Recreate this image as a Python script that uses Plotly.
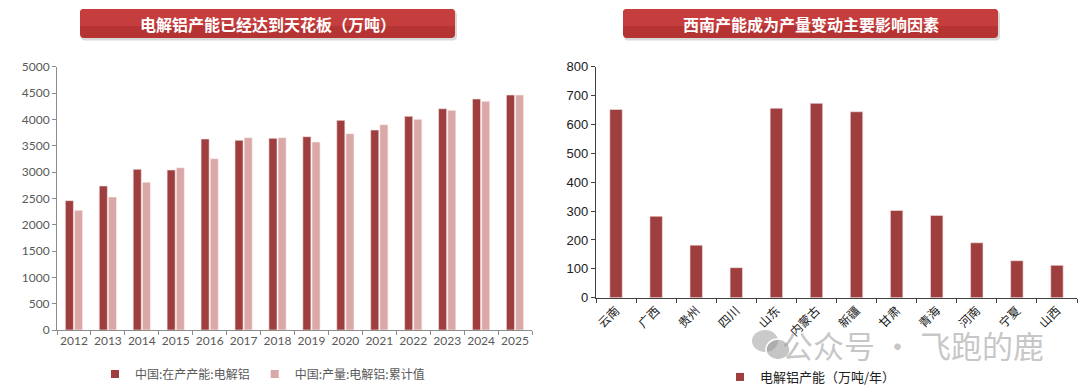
import plotly.graph_objects as go

W, H = 1080, 388

years = [str(y) for y in range(2012, 2026)]
capacity = [2456, 2734, 3051, 3038, 3627, 3601, 3639, 3671, 3981, 3797, 4057, 4202, 4386, 4462]
output = [2272, 2525, 2804, 3082, 3253, 3652, 3652, 3570, 3728, 3899, 4000, 4171, 4342, 4462]

provinces = ["云南", "广西", "贵州", "四川", "山东", "内蒙古", "新疆", "甘肃", "青海", "河南", "宁夏", "山西"]
prov_cap = [652, 282, 182, 104, 656, 673, 644, 302, 285, 190, 128, 112]

left_title = "电解铝产能已经达到天花板（万吨）"
right_title = "西南产能成为产量变动主要影响因素"
name_cap = "中国:在产产能:电解铝"
name_out = "中国:产量:电解铝:累计值"
name_prov = "电解铝产能（万吨/年）"

DARK = "#9E3E3E"
LIGHT = "#DBA8A8"

def px_x(v):
    return v / W

def px_y(v):
    return 1 - v / H

fig = go.Figure()
fig.add_trace(go.Bar(x=years, y=capacity, name=name_cap, marker=dict(color=DARK, line=dict(width=0.6, color="#F4E4E4")),
                     xaxis="x", yaxis="y", showlegend=False))
fig.add_trace(go.Bar(x=years, y=output, name=name_out, marker=dict(color=LIGHT, line=dict(width=0.6, color="#FBF0F0")),
                     xaxis="x", yaxis="y", showlegend=False))
fig.add_trace(go.Bar(x=provinces, y=prov_cap, name=name_prov, marker=dict(color=DARK, line=dict(width=0.6, color="#F4E4E4")),
                     xaxis="x2", yaxis="y2", showlegend=False, width=0.31))

for nm, col, lg, ax in [(name_cap, DARK, "legend", ("x", "y")), (name_out, LIGHT, "legend", ("x", "y")),
                        (name_prov, DARK, "legend2", ("x2", "y2"))]:
    fig.add_trace(go.Scatter(x=[None], y=[None], mode="markers", name=nm, legend=lg, xaxis=ax[0], yaxis=ax[1],
                             marker=dict(symbol="square", size=8, color=col)))

def rounded_path(x0, y0, x1, y1, r):
    def P(x, y):
        return f"{px_x(x):.5f},{px_y(y):.5f}"
    return (f"M {P(x0 + r, y0)} L {P(x1 - r, y0)} Q {P(x1, y0)} {P(x1, y0 + r)} "
            f"L {P(x1, y1 - r)} Q {P(x1, y1)} {P(x1 - r, y1)} L {P(x0 + r, y1)} "
            f"Q {P(x0, y1)} {P(x0, y1 - r)} L {P(x0, y0 + r)} Q {P(x0, y0)} {P(x0 + r, y0)} Z")

shapes = []
annotations = []
for (bx0, bx1, txt) in [(80, 455, left_title), (623, 998, right_title)]:
    shapes.append(dict(type="path", xref="paper", yref="paper", path=rounded_path(bx0 + 1, 11, bx1 + 2, 40.5, 4),
                       fillcolor="rgba(0,0,0,0.15)", line=dict(width=0), layer="above"))
    shapes.append(dict(type="path", xref="paper", yref="paper", path=rounded_path(bx0, 9, bx1, 38, 4),
                       fillcolor="#B53333", line=dict(width=0), layer="above"))
    shapes.append(dict(type="path", xref="paper", yref="paper", path=rounded_path(bx0, 9, bx1, 26, 4),
                       fillcolor="#C63D3D", line=dict(width=0), layer="above"))
    shapes.append(dict(type="rect", xref="paper", yref="paper", x0=px_x(bx0), x1=px_x(bx1), y0=px_y(26), y1=px_y(20),
                       fillcolor="#C63D3D", line=dict(width=0), layer="above"))
    annotations.append(dict(text=f"<b>{txt}</b>", x=px_x((bx0 + bx1) / 2), y=px_y(23.5), xref="paper", yref="paper",
                            showarrow=False, xanchor="center", yanchor="middle",
                            font=dict(family="Noto Sans CJK SC", size=16, color="white")))

annotations.append(dict(text="公众号 · 飞跑的鹿", x=px_x(913), y=px_y(344), xref="paper", yref="paper", showarrow=False,
                        xanchor="center", yanchor="middle",
                        font=dict(family="Noto Sans CJK SC", size=31, color="rgba(150,150,150,0.55)")))
shapes.append(dict(type="circle", xref="paper", yref="paper", x0=px_x(752), x1=px_x(778), y0=px_y(352), y1=px_y(330),
                   fillcolor="rgba(150,150,150,0.5)", line=dict(width=0)))
shapes.append(dict(type="circle", xref="paper", yref="paper", x0=px_x(766), x1=px_x(790), y0=px_y(360), y1=px_y(339),
                   fillcolor="rgba(150,150,150,0.55)", line=dict(width=1.5, color="white")))

fig.update_layout(
    width=W, height=H, margin=dict(l=0, r=0, t=0, b=0, autoexpand=False),
    paper_bgcolor="white", plot_bgcolor="white",
    barmode="group", bargap=0.46, bargroupgap=0.12,
    shapes=shapes, annotations=annotations,
    xaxis=dict(domain=[px_x(57), px_x(532)], type="category", showline=True, linecolor="#8C8C8C", linewidth=1,
               ticks="outside", tickson="boundaries", ticklen=4, tickcolor="#8C8C8C", tickangle=0, automargin=False,
               tickfont=dict(family="Lato", size=12, color="#595959"), anchor="y", showgrid=False),
    yaxis=dict(domain=[px_y(330), px_y(66.7)], range=[0, 5000], dtick=500, showline=True, linecolor="#8C8C8C",
               ticks="outside", ticklen=4, tickcolor="#8C8C8C", showgrid=False, zeroline=False, automargin=False,
               tickfont=dict(family="Lato", size=12, color="#595959"), anchor="x"),
    xaxis2=dict(domain=[px_x(596), px_x(1077)], type="category", showline=True, linecolor="#404040", linewidth=1.3,
                ticks="outside", tickson="boundaries", ticklen=4, tickcolor="#404040", tickangle=-45, automargin=False,
                tickfont=dict(family="Noto Sans CJK SC", size=12, color="#202020"), anchor="y2", showgrid=False),
    yaxis2=dict(domain=[px_y(297.7), px_y(66.7)], range=[0, 800], dtick=100, showline=True, linecolor="#404040",
                linewidth=1.3, ticks="outside", ticklen=4, tickcolor="#404040", showgrid=False, zeroline=False,
                automargin=False, tickfont=dict(family="Liberation Sans", size=13, color="#202020"), anchor="x2"),
    legend=dict(orientation="h", x=px_x(95), y=px_y(374), xanchor="left", yanchor="middle",
                font=dict(family="Noto Sans CJK SC", size=12, color="#595959"), itemwidth=30,
                bgcolor="rgba(0,0,0,0)"),
    legend2=dict(orientation="h", x=px_x(720), y=px_y(377), xanchor="left", yanchor="middle",
                 font=dict(family="Noto Sans CJK SC", size=13, color="#202020"), itemwidth=30,
                 bgcolor="rgba(0,0,0,0)"),
)

fig.write_html("out.html", config={"displayModeBar": False},
               post_script="document.body.style.margin='0';document.body.style.overflow='hidden';")
